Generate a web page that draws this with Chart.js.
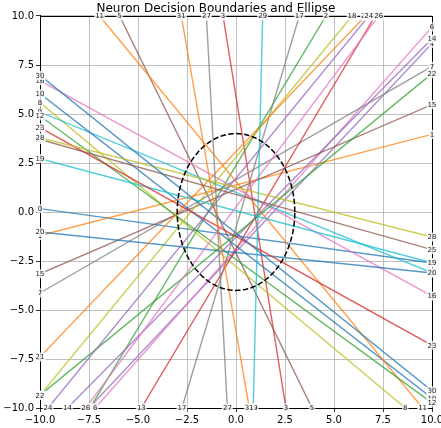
<!DOCTYPE html>
<html>
<head>
<meta charset="utf-8">
<script src="https://cdn.jsdelivr.net/npm/chart.js@4.4.0/dist/chart.umd.min.js"></script>
<style>
  html, body { margin: 0; padding: 0; background: #fff; }
  #wrap { width: 441px; height: 428px; }
</style>
</head>
<body>
<div id="wrap"><canvas id="boundaryChart"></canvas></div>
<script>
const neuronIds = [0, 1, 2, 3, 4, 5, 6, 7, 8, 9, 10, 11, 12, 13, 14, 15,
                   16, 17, 18, 19, 20, 21, 22, 23, 24, 25, 26, 27, 28, 29, 30, 31];
const startX = [-10, -10, -7.45, 2.55, -7.5, 3.88, -7.18, -10, -10, -10, -10, 9.52, -10, -4.83, -8.6, -10,
                -10, -2.76, -10, -10, -10, -10, -10, -10, -9.59, -10, -7.67, -0.44, -10, 0.88, -10, 0.68];
const startY = [0.17, -1.2, -10, -10, -10, -10, -10, -4.13, 5.58, 5.1, 6.04, -10, 4.9, -10, -10, -3.15,
                6.7, -10, -9.35, 2.72, -1.02, -7.4, -9.35, 4.3, -10, 3.7, -10, -10, 3.79, -10, 6.97, -10];
const endX = [10, 10, 4.59, -0.66, 10, -5.94, 10, 10, 8.64, 10, 10, -6.96, 10, 7.1, 10, 10,
              10, 3.23, 5.92, 10, 10, 6.6, 10, 10, 6.77, 10, 7.28, -1.51, 10, 1.36, 10, -2.79];
const endY = [-2.6, 3.96, 10, 10, 8.6, 10, 9.44, 7.43, -10, -3.1, -9.5, 10, -9.74, 10, 8.84, 5.48,
              -4.29, 10, 10, -2.59, -3.11, 10, 7.06, -6.8, 10, -1.92, 10, 10, -1.28, 10, -9.13, 10];

// ellipse: centre and half axes
const ellipseCenter = [0, 0];
const ellipseRadii = [3, 4];

const tab10 = ['#1f77b4', '#ff7f0e', '#2ca02c', '#d62728', '#9467bd',
               '#8c564b', '#e377c2', '#7f7f7f', '#bcbd22', '#17becf'];

function withAlpha(hex, a) {
    const r = parseInt(hex.slice(1, 3), 16);
    const g = parseInt(hex.slice(3, 5), 16);
    const b = parseInt(hex.slice(5, 7), 16);
    return 'rgba(' + r + ',' + g + ',' + b + ',' + a + ')';
}

function ellipsePoints() {
    const pts = [];
    for (let i = 0; i <= 200; i++) {
        const t = (i / 200) * 2 * Math.PI;
        pts.push({
            x: ellipseCenter[0] + ellipseRadii[0] * Math.cos(t),
            y: ellipseCenter[1] + ellipseRadii[1] * Math.sin(t)
        });
    }
    return pts;
}

const datasets = neuronIds.map((id, i) => ({
    label: 'Neuron ' + id,
    data: [{ x: startX[i], y: startY[i] }, { x: endX[i], y: endY[i] }],
    borderColor: withAlpha(tab10[id % 10], 0.75),
    borderWidth: 1.4,
    showLine: true,
    pointRadius: 0,
    order: 100 - i
}));

datasets.push({
    label: 'Ellipse',
    data: ellipsePoints(),
    borderColor: '#000',
    borderWidth: 1.5,
    borderDash: [5.5, 2.4],
    showLine: true,
    pointRadius: 0,
    order: 0
});

const minusFmt = v => v.toFixed(1).replace('-', '\u2212');

// spines on all four sides plus the id labels at both ends of each line
const endLabels = {
    id: 'endLabels',
    afterDatasetsDraw(chart) {
        const ctx = chart.ctx;
        const a = chart.chartArea;
        const xs = chart.scales.x, ys = chart.scales.y;
        ctx.save();
        ctx.strokeStyle = '#000';
        ctx.lineWidth = 1;
        ctx.strokeRect(Math.round(a.left) + 0.5, Math.round(a.top) + 0.5,
                       Math.round(a.right - a.left), Math.round(a.bottom - a.top));
        ctx.font = '7px "DejaVu Sans"';
        ctx.textAlign = 'center';
        ctx.textBaseline = 'middle';
        neuronIds.forEach((id, i) => {
            [[startX[i], startY[i]], [endX[i], endY[i]]].forEach(p => {
                const px = xs.getPixelForValue(p[0]);
                const py = ys.getPixelForValue(p[1]);
                const txt = String(id);
                const w = ctx.measureText(txt).width;
                ctx.fillStyle = 'rgba(255,255,255,0.8)';
                ctx.fillRect(px - w / 2 - 1, py - 4.5, w + 2, 9);
                ctx.fillStyle = '#222';
                ctx.fillText(txt, px, py + 0.5);
            });
        });
        ctx.restore();
    }
};

const ctx = document.getElementById('boundaryChart').getContext('2d');
new Chart(ctx, {
    type: 'scatter',
    data: { datasets: datasets },
    options: {
        responsive: true,
        maintainAspectRatio: false,
        animation: false,
        layout: { padding: { top: 0, right: 9, bottom: 0, left: 0 } },
        plugins: {
            legend: { display: false },
            tooltip: { enabled: false },
            title: {
                display: true,
                text: 'Neuron Decision Boundaries and Ellipse',
                color: '#000',
                font: { family: 'DejaVu Sans', size: 12, weight: 'normal' },
                padding: { top: 1.2, bottom: 0.4 }
            }
        },
        scales: {
            x: {
                type: 'linear',
                min: -10,
                max: 10,
                afterFit: axis => {
                    axis.height = 20;
                    axis.paddingLeft = 0;
                    axis.paddingRight = 0;
                },
                ticks: {
                    stepSize: 2.5,
                    color: '#000',
                    padding: 2,
                    maxRotation: 0,
                    font: { family: 'DejaVu Sans', size: 10 },
                    callback: minusFmt
                },
                grid: { color: '#b0b0b0', lineWidth: 0.8, tickColor: '#000', tickLength: 4 },
                border: { color: '#000' }
            },
            y: {
                type: 'linear',
                min: -10,
                max: 10,
                afterFit: axis => {
                    axis.width = 40;
                    axis.paddingTop = 0;
                    axis.paddingBottom = 0;
                },
                ticks: {
                    stepSize: 2.5,
                    color: '#000',
                    padding: 2,
                    font: { family: 'DejaVu Sans', size: 10 },
                    callback: minusFmt
                },
                grid: { color: '#b0b0b0', lineWidth: 0.8, tickColor: '#000', tickLength: 4 },
                border: { color: '#000' }
            }
        }
    },
    plugins: [endLabels]
});
</script>
</body>
</html>
